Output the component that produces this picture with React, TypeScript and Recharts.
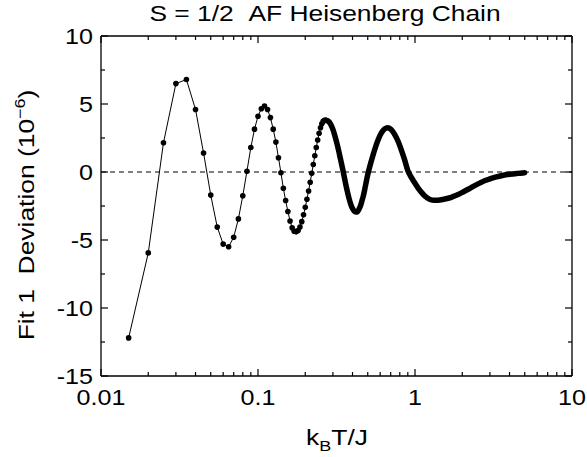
import React from "react";
import { LineChart, Line, XAxis, YAxis, ReferenceLine, Label } from "recharts";

const FONT = '"Liberation Sans", Arial, Helvetica, sans-serif';

// low temperature points, drawn as dots (kT/J)
const lowT = [
  0.015, 0.02, 0.025, 0.03, 0.035, 0.04, 0.045, 0.05, 0.055, 0.06, 0.065, 0.07,
  0.075, 0.08, 0.085, 0.09, 0.095, 0.1, 0.105, 0.11, 0.115, 0.12, 0.125, 0.13,
  0.135, 0.14, 0.145, 0.15, 0.155, 0.16, 0.165, 0.17, 0.175, 0.18, 0.185, 0.19,
  0.195, 0.2, 0.205, 0.21, 0.215, 0.22, 0.225, 0.23, 0.235, 0.24, 0.245, 0.25,
  0.255, 0.26, 0.265, 0.27,
];
// deviation in units of 1e-6
const lowDev = [
  -12.2, -5.95, 2.15, 6.5, 6.8, 4.6, 1.4, -1.7, -4.05, -5.3, -5.5, -4.8,
  -3.45, -1.75, 0.05, 1.8, 3.15, 4.1, 4.65, 4.85, 4.6, 4.0, 3.15, 2.2,
  1.05, -0.05, -1.2, -2.1, -2.9, -3.6, -4.1, -4.35, -4.4, -4.3, -4.05, -3.65,
  -3.15, -2.6, -2.0, -1.4, -0.75, -0.1, 0.55, 1.2, 1.8, 2.35, 2.85, 3.25,
  3.55, 3.72, 3.8, 3.8,
];

// higher temperatures: points are so dense they merge into a thick curve
const highT = [
  0.27, 0.28, 0.29, 0.3, 0.31, 0.32, 0.33, 0.34, 0.35, 0.36, 0.37, 0.38, 0.39,
  0.4, 0.41, 0.42, 0.43, 0.44, 0.45, 0.46, 0.47, 0.48, 0.49, 0.5, 0.52, 0.54,
  0.56, 0.58, 0.6, 0.62, 0.64, 0.67, 0.7, 0.74, 0.78, 0.82, 0.86, 0.9, 0.95, 1,
  1.05, 1.1, 1.15, 1.2, 1.26, 1.32, 1.4, 1.5, 1.6, 1.7, 1.8, 1.9, 2, 2.2, 2.4,
  2.6, 2.8, 3, 3.3, 3.6, 4, 4.5, 5,
];
const highDev = [
  3.8, 3.74, 3.52, 3.13, 2.6, 2.0, 1.32, 0.64, -0.05, -0.76, -1.39, -1.94, -2.38,
  -2.69, -2.88, -2.95, -2.93, -2.73, -2.47, -2.09, -1.7, -1.2, -0.68, -0.2, 0.57, 1.23,
  1.82, 2.31, 2.71, 2.99, 3.17, 3.25, 3.15, 2.79, 2.26, 1.59, 0.87, 0.1, -0.41, -0.83,
  -1.2, -1.5, -1.74, -1.91, -2.04, -2.08, -2.07, -2.02, -1.95, -1.86, -1.75, -1.63, -1.5, -1.25, -1.0,
  -0.8, -0.63, -0.5, -0.36, -0.26, -0.17, -0.1, -0.05,
];

const xMajor = [0.01, 0.1, 1, 10];
const xTicks = [
  0.01, 0.02, 0.03, 0.04, 0.05, 0.06, 0.07, 0.08, 0.09,
  0.1, 0.2, 0.3, 0.4, 0.5, 0.6, 0.7, 0.8, 0.9,
  1, 2, 3, 4, 5, 6, 7, 8, 9, 10,
];
const yTicks = [-15, -12.5, -10, -7.5, -5, -2.5, 0, 2.5, 5, 7.5, 10];

const lowData = lowT.map((t, i) => ({ t, dev: lowDev[i] }));
const highData = highT.map((t, i) => ({ t, dev: highDev[i] }));

const XTick = (props: any) => {
  const { x, y, payload, top } = props;
  const v = payload.value;
  const major = xMajor.includes(v);
  const len = major ? 7 : 4;
  const dir = top ? 1 : -1;
  return (
    <g>
      <line x1={x} x2={x} y1={y} y2={y + dir * len} stroke="#000" strokeWidth={1.2} />
      {major && !top && (
        <text
          transform={`translate(${x},${y + 29}) scale(1.14,1)`}
          textAnchor="middle"
          fontSize={22}
          fontFamily={FONT}
          fill="#000"
        >
          {String(v)}
        </text>
      )}
    </g>
  );
};

const YTick = (props: any) => {
  const { x, y, payload, right } = props;
  const v = payload.value;
  const major = v % 5 === 0;
  const len = major ? 7 : 4;
  const dir = right ? -1 : 1;
  return (
    <g>
      <line x1={x} x2={x + dir * len} y1={y} y2={y} stroke="#000" strokeWidth={1.2} />
      {major && !right && (
        <text
          transform={`translate(${x - 8},${y + 8}) scale(1.14,1)`}
          textAnchor="end"
          fontSize={22}
          fontFamily={FONT}
          fill="#000"
        >
          {String(v)}
        </text>
      )}
    </g>
  );
};

const XTitle = () => (
  <text
    transform="translate(337,445) scale(1.2,1)"
    textAnchor="middle"
    fontSize={22}
    fontFamily={FONT}
    fill="#000"
  >
    k<tspan fontSize={15} dy={6}>B</tspan>
    <tspan dy={-6}>T/J</tspan>
  </text>
);

const YTitle = () => (
  <text
    transform="translate(34,215) rotate(-90) scale(1.2,1)"
    textAnchor="middle"
    fontSize={22}
    fontFamily={FONT}
    fill="#000"
  >
    Fit 1{"\u00a0\u00a0"}Deviation (10
    <tspan fontSize={15} dy={-9}>−6</tspan>
    <tspan dy={9}>)</tspan>
  </text>
);

const Title = () => (
  <text
    transform="translate(325,21) scale(1.2,1)"
    textAnchor="middle"
    fontSize={22}
    fontFamily={FONT}
    fill="#000"
  >
    S = 1/2{"\u00a0\u00a0"}AF Heisenberg Chain
  </text>
);

export default function App() {
  return (
    <div
      style={{
        position: "absolute",
        left: 0,
        top: 0,
        width: 587,
        height: 457,
        background: "#fff",
      }}
    >
      <LineChart
        width={587}
        height={457}
        margin={{ top: 35, right: 14, bottom: 31, left: 41 }}
      >
        <XAxis
          dataKey="t"
          type="number"
          scale="log"
          domain={[0.01, 10]}
          allowDataOverflow
          ticks={xTicks}
          interval={0}
          height={50}
          tickSize={0}
          tickMargin={0}
          tickLine={false}
          axisLine={{ stroke: "#000", strokeWidth: 1.3 }}
          tick={(p: any) => <XTick {...p} />}
        >
          <Label content={XTitle} />
        </XAxis>
        <XAxis
          xAxisId="top"
          orientation="top"
          dataKey="t"
          type="number"
          scale="log"
          domain={[0.01, 10]}
          allowDataOverflow
          ticks={xTicks}
          interval={0}
          height={1}
          tickSize={0}
          tickMargin={0}
          tickLine={false}
          axisLine={{ stroke: "#000", strokeWidth: 1.3 }}
          tick={(p: any) => <XTick {...p} top />}
        >
          <Label content={Title} />
        </XAxis>
        <YAxis
          type="number"
          domain={[-15, 10]}
          allowDataOverflow
          ticks={yTicks}
          interval={0}
          width={60}
          tickSize={0}
          tickMargin={0}
          tickLine={false}
          axisLine={{ stroke: "#000", strokeWidth: 1.3 }}
          tick={(p: any) => <YTick {...p} />}
        >
          <Label content={YTitle} />
        </YAxis>
        <YAxis
          yAxisId="right"
          orientation="right"
          type="number"
          domain={[-15, 10]}
          allowDataOverflow
          ticks={yTicks}
          interval={0}
          width={1}
          tickSize={0}
          tickMargin={0}
          tickLine={false}
          axisLine={{ stroke: "#000", strokeWidth: 1.3 }}
          tick={(p: any) => <YTick {...p} right />}
        />
        <ReferenceLine y={0} stroke="#000" strokeWidth={1} strokeDasharray="5 4" />
        <Line
          data={lowData}
          dataKey="dev"
          type="linear"
          stroke="#000"
          strokeWidth={1}
          dot={{ r: 2.8, fill: "#000", stroke: "none" }}
          activeDot={false}
          isAnimationActive={false}
        />
        <Line
          data={highData}
          dataKey="dev"
          type="monotone"
          stroke="#000"
          strokeWidth={5.5}
          strokeLinecap="round"
          dot={false}
          activeDot={false}
          isAnimationActive={false}
        />
      </LineChart>
    </div>
  );
}
